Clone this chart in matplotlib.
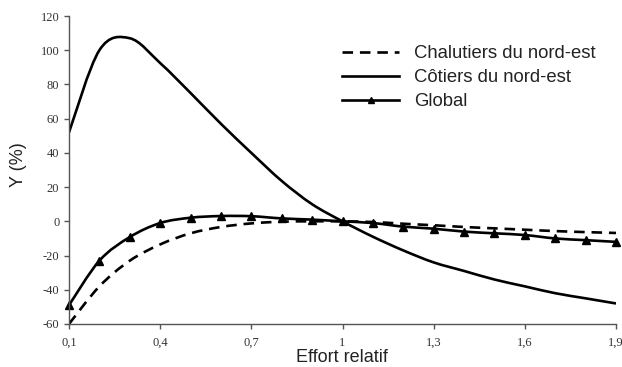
import numpy as np
import matplotlib
matplotlib.use('Agg')
import matplotlib.pyplot as plt
from matplotlib.path import Path
from matplotlib.patches import PathPatch
from matplotlib.lines import Line2D

plt.rcParams['axes.unicode_minus'] = False

effort = [0.1, 0.2, 0.3, 0.4, 0.5, 0.6, 0.7, 0.8, 0.9, 1.0,
          1.1, 1.2, 1.3, 1.4, 1.5, 1.6, 1.7, 1.8, 1.9]
chalutiers = [-60, -38, -23, -13.5, -7, -3.3, -1.2, -0.2, 0, 0,
              -0.4, -1.4, -2.3, -3.3, -4.1, -4.9, -5.7, -6.3, -6.8]
cotiers = [52, 100, 107, 92.5, 75, 57, 40, 23.6, 10, 0,
           -9, -17, -24, -29, -34, -38, -42, -45, -48]
global_y = [-49, -23, -9.2, -1, 2.1, 3.1, 3, 1.7, 1, 0,
            -1, -3.1, -4.3, -6, -7, -8, -10, -11, -12]

xticks = [0.1, 0.4, 0.7, 1.0, 1.3, 1.6, 1.9]
xticklabels = ['0,1', '0,4', '0,7', '1', '1,3', '1,6', '1,9']
yticks = [-60, -40, -20, 0, 20, 40, 60, 80, 100, 120]


def smooth_path(x, y):
    # Catmull-Rom style bezier, like the smoothed lines of a spreadsheet
    pts = np.column_stack([x, y]).astype(float)
    n = len(pts)
    verts = [pts[0]]
    codes = [Path.MOVETO]
    for i in range(n - 1):
        p0 = pts[max(i - 1, 0)]
        p1 = pts[i]
        p2 = pts[i + 1]
        p3 = pts[min(i + 2, n - 1)]
        c1 = p1 + (p2 - p0) / 6.0
        c2 = p2 - (p3 - p1) / 6.0
        verts += [c1, c2, p2]
        codes += [Path.CURVE4] * 3
    return Path(verts, codes)


def add_curve(ax, x, y, **kw):
    patch = PathPatch(smooth_path(x, y), facecolor='none', edgecolor='black',
                      capstyle='butt', joinstyle='round', **kw)
    ax.add_patch(patch)


dash = (0, (4, 2.6))

fig = plt.figure(figsize=(6.22, 3.67), dpi=100)
ax = fig.add_axes([69 / 622, 1 - 324 / 367, 547 / 622, 308 / 367])

add_curve(ax, effort, chalutiers, linewidth=1.9, linestyle=dash)
add_curve(ax, effort, cotiers, linewidth=1.9)
add_curve(ax, effort, global_y, linewidth=1.9)
ax.plot(effort, global_y, linestyle='none', marker='^', color='black',
        markersize=6, clip_on=False)

ax.set_xlim(0.1, 1.9)
ax.set_ylim(-60, 120)
ax.set_xticks(xticks)
ax.set_xticklabels(xticklabels)
ax.set_yticks(yticks)

for s in ['top', 'right']:
    ax.spines[s].set_visible(False)
for s in ['left', 'bottom']:
    ax.spines[s].set_color('#555555')
    ax.spines[s].set_linewidth(1.0)
ax.tick_params(axis='both', direction='out', length=3.5, width=1.0,
               color='#555555', labelsize=9, labelcolor='#333333')
for lab in ax.get_xticklabels() + ax.get_yticklabels():
    lab.set_fontfamily('Liberation Serif')
ax.tick_params(axis='x', pad=6)

ax.set_xlabel('Effort relatif', fontfamily='Liberation Sans', fontsize=13,
              color='#222222')
ax.set_ylabel('Y (%)', fontfamily='Liberation Sans', fontsize=13,
              color='#222222')
ax.xaxis.set_label_coords(0.499, -0.080)
ax.yaxis.set_label_coords(-0.077, 0.516)

handles = [
    Line2D([], [], color='black', linewidth=1.9, linestyle=dash),
    Line2D([], [], color='black', linewidth=1.9),
    Line2D([], [], color='black', linewidth=1.9, marker='^', markersize=6),
]
labels = ['Chalutiers du nord-est', 'Côtiers du nord-est', 'Global']
leg = ax.legend(handles, labels, loc='upper left',
                bbox_to_anchor=(0.499, 0.905), frameon=False,
                prop={'family': 'Liberation Sans', 'size': 13.3},
                handlelength=3.1, handletextpad=0.8, labelspacing=0.38,
                borderpad=0, borderaxespad=0, markerscale=0.8)
for t in leg.get_texts():
    t.set_color('#222222')

fig.savefig('out.png', dpi=100)
